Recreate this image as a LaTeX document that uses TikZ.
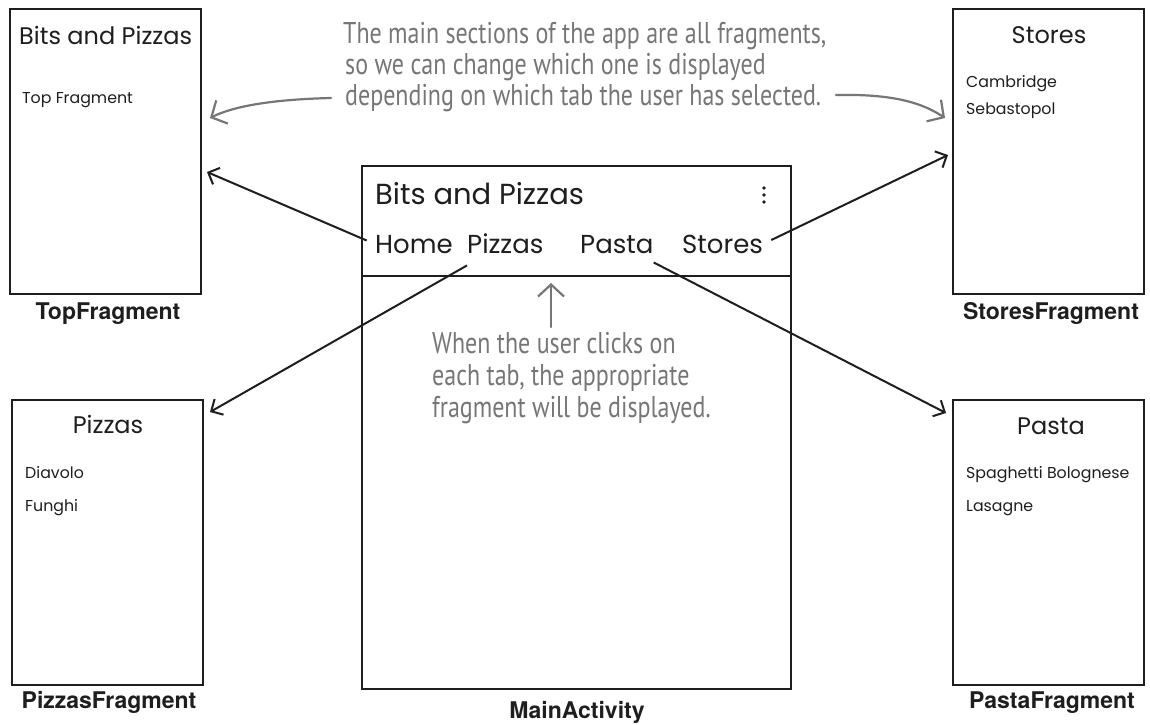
\documentclass[tikz,border=0pt]{standalone}
\usepackage{fontspec}
\setmainfont{Poppins}
\newfontfamily\labelfont{TeX Gyre Heros}
\newfontfamily\handfont{PT Sans}[FakeStretch=0.8]
\usetikzlibrary{arrows.meta}
\definecolor{annot}{RGB}{118,118,118}
\definecolor{ink}{RGB}{30,30,30}
\begin{document}
\begin{tikzpicture}[x=1pt,y=-1pt,
  frame/.style={draw=ink, line width=2.6pt, inner sep=0pt, outer sep=0pt, anchor=north west},
  lbl/.style={font=\labelfont\bfseries\fontsize{23}{26}\selectfont, text=ink, anchor=base, inner sep=0pt},
  title/.style={font=\fontsize{24}{28}\selectfont, text=ink, inner sep=0pt},
  item/.style={font=\fontsize{15.8}{18}\selectfont, text=ink, inner sep=0pt, anchor=base west},
  big/.style={font=\fontsize{26}{30}\selectfont, text=ink, inner sep=0pt, anchor=base west},
  note/.style={font=\handfont\fontsize{30}{34}\selectfont, text=annot, inner sep=0pt, anchor=base west},
  smallnote/.style={font=\handfont\fontsize{30}{32}\selectfont, text=annot, inner sep=0pt, anchor=north west, align=left},
  conn/.style={draw=ink, line width=2pt, -{Straight Barb[length=9pt,width=18pt,line width=2pt]}},
  annarrow/.style={draw=annot, line width=2.2pt, line cap=round, -{Straight Barb[length=12pt,width=26pt,line width=2.2pt]}}
]
\useasboundingbox (0,0) rectangle (1150,724);
\fill[white] (0,0) rectangle (1150,724);

% boxes
\node[frame, minimum width=191pt, minimum height=285pt] (topbox) at (10,9) {};
\node[frame, minimum width=191pt, minimum height=285pt] (storesbox) at (953,9) {};
\node[frame, minimum width=191pt, minimum height=285pt] (pizzasbox) at (12,400) {};
\node[frame, minimum width=191pt, minimum height=285pt] (pastabox) at (953,400) {};
\node[frame, minimum width=429pt, minimum height=523pt] (mainbox) at (362,166) {};
\draw[draw=ink, line width=2.6pt] (mainbox.west |- 0,276) -- (mainbox.east |- 0,276);

% labels
\node[lbl] (toplbl) at (108,319) {TopFragment};
\node[lbl] (storeslbl) at (1051,319) {StoresFragment};
\node[lbl] (pizzaslbl) at (109,708) {PizzasFragment};
\node[lbl] (pastalbl) at (1052,708) {PastaFragment};
\node[lbl] (mainlbl) at (577,718) {MainActivity};

% top fragment content
\node[title, anchor=base west] (toptitle) at (19,44) {Bits and Pizzas};
\node[item] (topitem) at (22,103) {Top Fragment};

% stores content
\node[title, anchor=base] (storestitle) at (1049,43) {Stores};
\node[item] (cam) at (966,87) {Cambridge};
\node[item] (seb) at (966,114) {Sebastopol};

% pizzas content
\node[title, anchor=base] (pizzastitle) at (108,433) {Pizzas};
\node[item] (dia) at (25,478) {Diavolo};
\node[item] (fun) at (25,511) {Funghi};

% pasta content
\node[title, anchor=base] (pastatitle) at (1051,434) {Pasta};
\node[item] (spa) at (966,478) {Spaghetti Bolognese};
\node[item] (las) at (966,511) {Lasagne};

% main activity content
\node[big, font=\fontsize{29}{32}\selectfont] (maintitle) at (375,204) {Bits and Pizzas};
\node[big] (home) at (375,253) {Home};
\node[big] (pizzas) at (467,253) {Pizzas};
\node[big] (pasta) at (580,253) {Pasta};
\node[big] (stores) at (682,253) {Stores};
\fill[ink] (764,188) circle (1.9pt) (764,195) circle (1.9pt) (764,202) circle (1.9pt);

% tip coordinates
\coordinate (ttip) at (207,172);
\coordinate (stip) at (948,155);
\coordinate (ptip) at (210,412);
\coordinate (atip) at (946,413);

\draw[conn, shorten <=9pt] (home.west) -- (ttip);
\draw[conn, shorten <=9pt] (stores.east) -- (stip);
\draw[conn] ([yshift=-12pt]pizzas.south west) -- (ptip);
\draw[conn] ([yshift=-9pt]pasta.south east) -- (atip);

% annotations
\node[note] (n1) at (343,43) {The main sections of the app are all fragments,};
\node[note] (n2) at (345,74) {so we can change which one is displayed};
\node[note] (n3) at (345,105) {depending on which tab the user has selected.};

\coordinate (nl) at (331,98);
\coordinate (nlt) at (210,118);
\coordinate (nr) at (836,95);
\coordinate (nrt) at (945,118);
\draw[annarrow] (nl) .. controls (290,99) and (240,103) .. (nlt);
\draw[annarrow] (nr) .. controls (885,94) and (918,100) .. (nrt);

\node[smallnote] (m) at (432,332) {When the user clicks on\\each tab, the appropriate\\fragment will be displayed.};
\coordinate (mb) at (551,327);
\coordinate (mt) at (551,283);
\draw[annarrow] (mb) -- (mt);
\end{tikzpicture}
\end{document}
